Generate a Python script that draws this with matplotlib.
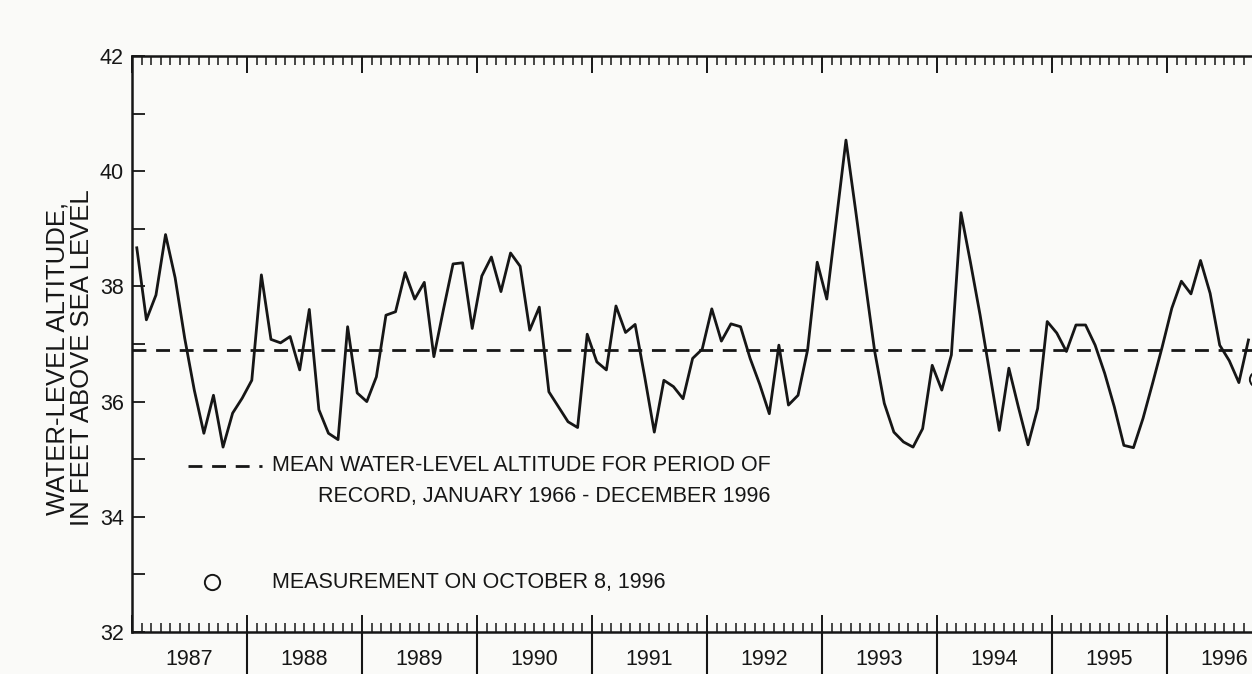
import numpy as np
import matplotlib.pyplot as plt
from matplotlib.ticker import MultipleLocator
import matplotlib.transforms as mtransforms

plt.rcParams["font.family"] = ["Liberation Sans", "DejaVu Sans"]

# monthly water-level altitude, feet above sea level, January 1987 - September 1996
start_year = 1987
levels = [
    38.67, 37.42, 37.85, 38.90, 38.15, 37.10, 36.20, 35.45, 36.11, 35.21, 35.80, 36.06,
    36.37, 38.20, 37.08, 37.02, 37.13, 36.55, 37.60, 35.86, 35.45, 35.34, 37.30, 36.15,
    36.00, 36.43, 37.50, 37.56, 38.24, 37.78, 38.07, 36.78, 37.60, 38.39, 38.41, 37.27,
    38.18, 38.51, 37.91, 38.58, 38.35, 37.24, 37.64, 36.17, 35.91, 35.65, 35.55, 37.17,
    36.69, 36.55, 37.66, 37.20, 37.34, 36.43, 35.47, 36.37, 36.26, 36.05, 36.75, 36.91,
    37.61, 37.05, 37.35, 37.30, 36.75, 36.30, 35.79, 36.98, 35.94, 36.11, 36.90, 38.42,
    37.78, 39.16, 40.54, 39.33, 38.09, 36.87, 35.97, 35.47, 35.30, 35.21, 35.53, 36.63,
    36.20, 36.81, 39.28, 38.41, 37.50, 36.50, 35.50, 36.58, 35.90, 35.25, 35.88, 37.39,
    37.19, 36.87, 37.33, 37.33, 36.98, 36.49, 35.91, 35.24, 35.20, 35.71, 36.32, 36.95,
    37.62, 38.09, 37.87, 38.45, 37.88, 36.98, 36.71, 36.33, 37.07,
]
year_labels = ["1987", "1988", "1989", "1990", "1991", "1992", "1993", "1994", "1995", "1996"]

mean_level = 36.9           # mean for period of record 1966-1996
measurement_date = 1996.78  # October 8, 1996
measurement_level = 36.4

# mid-month positions in decimal years
dates = start_year + (np.arange(len(levels)) + 0.5) / 12

ink = "#161616"
fig = plt.figure(figsize=(12.52, 6.74), dpi=100, facecolor="#fafaf8")
# axes run past the right edge of the figure, like the cropped original
ax = fig.add_axes([132 / 1252, 42 / 674, 1150 / 1252, 576 / 674])
ax.set_facecolor("#fafaf8")

ax.plot(dates, levels, color=ink, lw=2.0, zorder=3)
ax.axhline(mean_level, color=ink, lw=2.0, dashes=(5, 3.5), zorder=2)
ax.plot(measurement_date, measurement_level, "o", ms=11, mfc="none",
        mec=ink, mew=1.4, zorder=4)

ax.set_xlim(1987, 1997)
ax.set_ylim(32, 42)

# ticks: monthly minor, yearly major, all pointing in
ax.xaxis.set_major_locator(MultipleLocator(1))
ax.xaxis.set_minor_locator(MultipleLocator(1 / 12))
ax.yaxis.set_major_locator(MultipleLocator(2))
ax.yaxis.set_minor_locator(MultipleLocator(1))
ax.tick_params(axis="x", which="both", direction="in", top=True, bottom=True,
               labelbottom=False, color=ink)
ax.tick_params(axis="x", which="major", length=12, width=1.4)
ax.tick_params(axis="x", which="minor", length=6.5, width=1.1)
ax.tick_params(axis="y", which="both", direction="in", left=True, right=False,
               length=9, width=1.3, color=ink)
ax.tick_params(axis="y", which="major", labelsize=15.5, pad=6, labelcolor=ink)
for s in ax.spines.values():
    s.set_linewidth(1.8)
    s.set_color(ink)

# year boxes below the axis
trans = mtransforms.blended_transform_factory(ax.transData, ax.transAxes)
for i, label in enumerate(year_labels):
    yr = start_year + i
    if i > 0:
        ax.plot([yr, yr], [0, -0.08], transform=trans, color=ink,
                lw=1.5, clip_on=False)
    ax.text(yr + 0.5, -0.048, label, transform=trans, ha="center", va="center",
            fontsize=15.5, color=ink)

# legend drawn by hand
ax.plot([0.049, 0.113], [0.288, 0.288], transform=ax.transAxes, color=ink,
        lw=2.0, dashes=(5, 3.5))
ax.text(0.1217, 0.262, "MEAN WATER-LEVEL ALTITUDE FOR PERIOD OF\nRECORD, JANUARY 1966 - DECEMBER 1996",
        transform=ax.transAxes, ha="left", va="center", multialignment="right",
        fontsize=15.5, linespacing=1.6, color=ink)
ax.plot(0.0696, 0.0868, "o", transform=ax.transAxes, ms=11, mfc="none",
        mec=ink, mew=1.4)
ax.text(0.1217, 0.0868, "MEASUREMENT ON OCTOBER 8, 1996", transform=ax.transAxes,
        ha="left", va="center", fontsize=15.5, color=ink)

fig.text(70 / 1252, 1 - 358 / 674, "WATER-LEVEL ALTITUDE,\nIN FEET ABOVE SEA LEVEL",
         rotation=90, ha="center", va="center", multialignment="center",
         fontsize=18.5, linespacing=1.05, color=ink)

plt.savefig("out.png", dpi=100, facecolor=fig.get_facecolor())
